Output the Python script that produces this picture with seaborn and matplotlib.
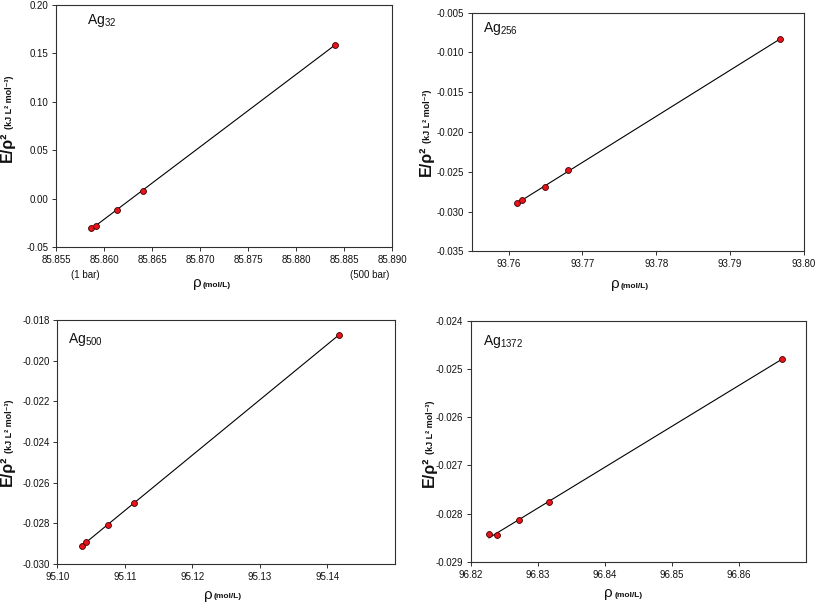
import numpy as np
import pandas as pd
import seaborn as sns
import matplotlib
matplotlib.use("Agg")
import matplotlib.pyplot as plt
from matplotlib.ticker import FormatStrFormatter

sns.set_theme(style="ticks")
plt.rcParams["font.family"] = ["Liberation Sans", "DejaVu Sans"]
plt.rcParams["mathtext.fontset"] = "custom"
plt.rcParams["mathtext.rm"] = "Liberation Sans"
plt.rcParams["mathtext.default"] = "regular"
plt.rcParams["axes.unicode_minus"] = False

W, H = 817, 604

# data
rho_32 = [85.85861, 85.85913, 85.86138, 85.86405, 85.88407]
e_32 = [-0.0304, -0.0283, -0.0114, 0.0075, 0.1590]

rho_256 = [93.76113, 93.76176, 93.76489, 93.76810, 93.79670]
e_256 = [-0.02897, -0.02859, -0.02687, -0.02482, -0.00835]

rho_500 = [95.10362, 95.10422, 95.10744, 95.11132, 95.14174]
e_500 = [-0.02911, -0.02893, -0.02808, -0.02702, -0.01872]

rho_1372 = [96.82267, 96.82381, 96.82713, 96.83163, 96.86643]
e_1372 = [-0.02843, -0.02845, -0.02814, -0.02776, -0.02479]

labels = ["Ag$_{32}$", "Ag$_{256}$", "Ag$_{500}$", "Ag$_{1372}$"]
xticks = [
    [85.855, 85.860, 85.865, 85.870, 85.875, 85.880, 85.885, 85.890],
    [93.76, 93.77, 93.78, 93.79, 93.80],
    [95.10, 95.11, 95.12, 95.13, 95.14],
    [96.82, 96.83, 96.84, 96.85, 96.86],
]
yticks = [
    [-0.05, 0.00, 0.05, 0.10, 0.15, 0.20],
    [-0.035, -0.030, -0.025, -0.020, -0.015, -0.010, -0.005],
    [-0.030, -0.028, -0.026, -0.024, -0.022, -0.020, -0.018],
    [-0.029, -0.028, -0.027, -0.026, -0.025, -0.024],
]
xlims = [(85.855, 85.890), (93.755, 93.80), (95.10, 95.15), (96.82, 96.87)]
xfmt = ["%.3f", "%.2f", "%.2f", "%.2f"]
yfmt = ["%.2f", "%.3f", "%.3f", "%.3f"]

# layout in pixels: (left, right, top, bottom)
boxes = [(56, 392, 5, 247), (471.7, 804, 12.7, 251.3),
         (57.3, 395, 320, 564), (471, 806, 320.7, 562)]
tag_pos = [(87, 24), (483.3, 32), (67.7, 343), (482.7, 345)]
rho_pos = [(193, 287), (610.7, 288), (204, 598.5), (604.3, 597)]
ylab_pos = [(12, 162), (430.5, 176), (12, 486), (433.5, 487)]


def px(x, y):
    return x / W, 1 - y / H


fig = plt.figure(figsize=(W / 100, H / 100), dpi=100)
fig.patch.set_facecolor("white")

series = [(rho_32, e_32), (rho_256, e_256), (rho_500, e_500), (rho_1372, e_1372)]
for i, (rho, e) in enumerate(series):
    l, r, t, b = boxes[i]
    ax = fig.add_axes([l / W, 1 - b / H, (r - l) / W, (b - t) / H])
    ax.set_facecolor("white")
    df = pd.DataFrame({"rho": rho, "e": e})
    sns.regplot(data=df, x="rho", y="e", ax=ax, ci=None, truncate=True,
                scatter_kws=dict(s=18, color="#e8141c", edgecolor="#3a0000",
                                 linewidths=0.6, zorder=3, alpha=1),
                line_kws=dict(color="black", lw=0.8, zorder=2))
    ax.set_xlim(*xlims[i])
    ax.set_ylim(yticks[i][0], yticks[i][-1])
    ax.set_xticks(xticks[i])
    ax.set_yticks(yticks[i])
    ax.xaxis.set_major_formatter(FormatStrFormatter(xfmt[i]))
    ax.yaxis.set_major_formatter(FormatStrFormatter(yfmt[i]))
    ax.set_xlabel("")
    ax.set_ylabel("")
    for sp in ax.spines.values():
        sp.set_visible(True)
        sp.set_color("#303030")
        sp.set_linewidth(0.8)
    ax.tick_params(direction="out", length=3, width=0.7, labelsize=7,
                   pad=2.5, color="#303030", labelcolor="#111111")
    ax.text((tag_pos[i][0] - l) / (r - l), (b - tag_pos[i][1]) / (b - t),
            labels[i], transform=ax.transAxes, ha="left", va="baseline",
            fontsize=10, color="#111111")

    # x label: big rho + small bold unit
    fig.text(*px(*rho_pos[i]), "ρ", ha="left", va="baseline", fontsize=11,
             color="#111111")
    fig.text(*px(rho_pos[i][0] + 10, rho_pos[i][1]), "(mol/L)", ha="left",
             va="baseline", fontsize=6, fontweight="bold", color="#111111")

    # y label: E/rho^2 + small bold unit
    t1 = fig.text(*px(*ylab_pos[i]), "E/ρ²", rotation=90, rotation_mode="anchor",
                  ha="left", va="baseline", fontsize=11.5, fontweight="bold",
                  color="#111111")
    ax.annotate("(kJ L² mol⁻³)", xy=(1, 1), xycoords=t1, xytext=(-2.4, 1.5),
                textcoords="offset points", rotation=90, rotation_mode="anchor",
                ha="left", va="baseline", fontsize=6.5, fontweight="bold",
                color="#111111", annotation_clip=False)

# pressure notes under the first panel
fig.text(*px(85.5, 275), "(1 bar)", ha="center", va="center", fontsize=7,
         color="#111111")
fig.text(*px(370, 275), "(500 bar)", ha="center", va="center", fontsize=7,
         color="#111111")

fig.savefig("out.png", dpi=100, facecolor="white")
